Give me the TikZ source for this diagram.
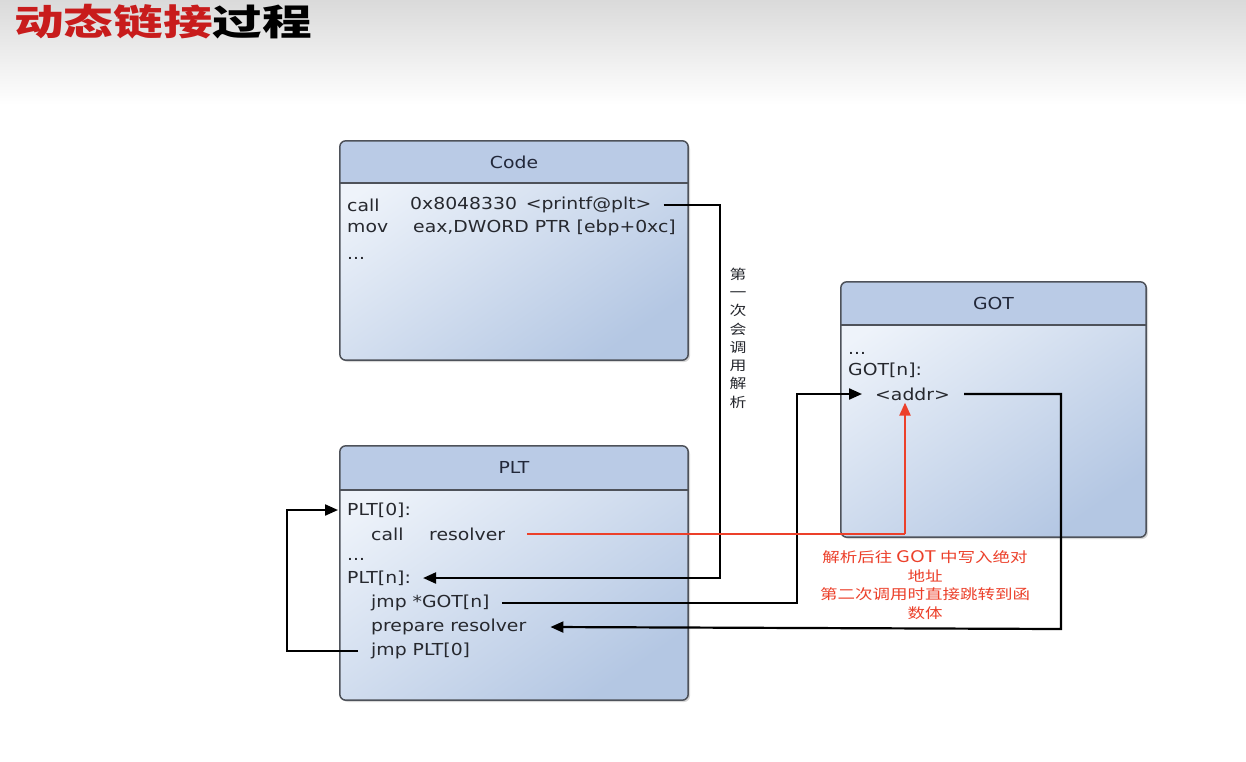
\documentclass[tikz,border=0pt]{standalone}
\usepackage{fontspec}
\setmainfont{DejaVu Sans}[FakeStretch=1.14]
\newfontfamily\cjk{Noto Sans CJK SC}[FakeStretch=1.25]
\newfontfamily\cjkt{Noto Sans CJK SC}[FakeStretch=1.38]
\usetikzlibrary{arrows.meta,shadows}
\definecolor{boxtop}{RGB}{238,243,250}
\definecolor{boxbot}{RGB}{180,199,227}
\definecolor{hdr}{RGB}{186,203,230}
\definecolor{bordc}{RGB}{78,82,90}
\definecolor{txt}{RGB}{38,40,46}
\definecolor{hdtxt}{RGB}{34,40,58}
\definecolor{redl}{RGB}{236,64,42}
\definecolor{titlered}{RGB}{200,28,28}
\definecolor{bandtop}{RGB}{218,218,218}
\tikzset{
  box/.style={rectangle, rounded corners=6pt, shading=axis, top color=boxtop, bottom color=boxbot, shading angle=35,
    drop shadow={shadow xshift=2pt, shadow yshift=-2pt, opacity=0.3}, inner sep=0},
  t/.style={anchor=west, inner sep=0, text=txt, font=\fontsize{16.5}{18}\selectfont},
  hd/.style={inner sep=0, text=hdtxt, font=\fontsize{16.5}{18}\selectfont},
  arr/.style={line width=2.2pt, draw=black, -{Triangle[length=13pt,width=11pt]}},
  rarr/.style={line width=2.2pt, draw=redl, -{Triangle[length=13pt,width=11pt]}},
  rline/.style={line width=2.2pt, draw=redl},
  border/.style={draw=bordc, line width=1.5pt, rounded corners=6pt},
  hrule/.style={draw=bordc, line width=1.2pt},
}
\begin{document}
\begin{tikzpicture}[x=1pt,y=-1pt]
\useasboundingbox (0,0) rectangle (1246,761);
\fill[white] (0,0) rectangle (1246,761);
\shade[top color=bandtop, bottom color=white] (0,0) rectangle (1246,105);

% title
\node[anchor=west, inner sep=0] (title) at (14,22) {\cjkt\bfseries\fontsize{36}{40}\selectfont\textcolor{titlered}{动态链接}\textcolor{black}{过程}};

% boxes
\node[box, minimum width=348pt, minimum height=219pt] (code) at (514,250.5) {};
\node[box, minimum width=348pt, minimum height=254pt] (plt) at (514,573) {};
\node[box, minimum width=305pt, minimum height=255pt] (got) at (993.5,409.5) {};

\foreach \b/\h in {code/183,plt/490,got/325}{
  \coordinate (hh) at (0,\h);
  \begin{scope}
    \clip[rounded corners=6pt] (\b.north west) rectangle (\b.south east);
    \fill[hdr] (\b.north west) rectangle (\b.east |- hh);
  \end{scope}
  \draw[border] (\b.north west) rectangle (\b.south east);
  \draw[hrule] (\b.west |- hh) -- (\b.east |- hh);
}

\node[hd] (codeh) at (514,162) {Code};
\node[hd] (plth) at (514,467) {PLT};
\node[hd] (goth) at (993.5,303) {GOT};

% code text
\node[t] (c1) at (347,205) {call};
\node[t] (printf) at (410,205) {0x8048330 \,<printf@plt>};
\node[t] (c2) at (347,228) {mov};
\node[t] (c2b) at (413,228) {eax,DWORD PTR [ebp+0xc]};
\node[t] (c3) at (347,258) {...};

% plt text
\node[t] (plt0) at (347,510) {PLT[0]:};
\node[t] (pcall) at (371,534) {call};
\node[t] (resolver) at (429,534) {resolver};
\node[t] (pdots) at (347,559) {...};
\node[t] (pltn) at (347,578) {PLT[n]:};
\node[t] (jmpgot) at (371,603) {jmp *GOT[n]};
\node[t] (prep) at (371,627) {prepare resolver};
\node[t] (jmpplt) at (371,651) {jmp PLT[0]};

% got text
\node[t] (gdots) at (848,353) {...};
\node[t] (gotn) at (848,370) {GOT[n]:};
\node[t] (addr) at (875,394) {<addr>};

% connector coordinates
\coordinate (k1) at (720,578);
\coordinate (k2) at (287,651);
\coordinate (k3) at (797,603);
\coordinate (k4) at (1061,629);
\coordinate (k5) at (905,534);

% code -> PLT[n]
\draw[arr] ([xshift=12pt]printf.east) -| (k1) -- ([xshift=12pt]pltn.east);
\node[inner sep=0, text=txt, align=center, font=\cjk\fontsize{13.5}{18.3}\selectfont] (vlabel) at (738,338)
  {第\\一\\次\\会\\调\\用\\解\\析};

% loop jmp PLT[0] -> PLT[0]
\draw[arr] ([xshift=-13pt]jmpplt.west) -- (k2) |- ([xshift=-9pt]plt0.west);

% jmp *GOT[n] -> addr
\draw[arr] ([xshift=12pt]jmpgot.east) -- (k3) |- ([xshift=-13pt]addr.west);

% addr -> prepare resolver
\draw[arr] ([xshift=14pt]addr.east) -| (k4) -- ([xshift=24pt]prep.east);

% red: resolver -> addr
\draw[rline] ([xshift=22pt]resolver.east) -- (k5);
\draw[rarr] (k5) -- ([yshift=-2pt]k5 |- addr.south);

\node[inner sep=0, text=redl, align=center, font=\cjk\fontsize{14}{18.5}\selectfont] (rlabel) at (925,585)
  {解析后往 {\fontsize{16}{18}\selectfont GOT} 中写入绝对\\地址\\第二次调用时直接跳转到函\\数体};
\end{tikzpicture}
\end{document}
